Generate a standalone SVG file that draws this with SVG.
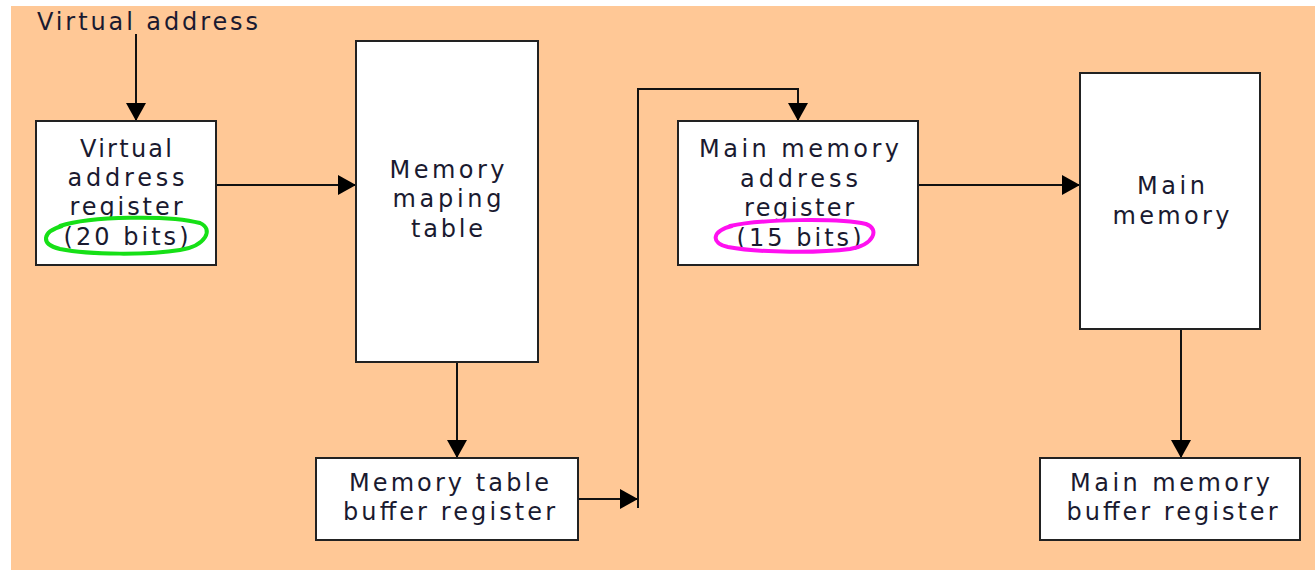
<svg xmlns="http://www.w3.org/2000/svg" width="1315" height="570" viewBox="0 0 1315 570">
<style>
.box{fill:#ffffff;stroke:#222222;stroke-width:2}
.lbl{font-family:"DejaVu Sans",sans-serif;font-size:24px;fill:#1a1a30;text-anchor:middle}
.ttl{font-family:"DejaVu Sans",sans-serif;font-size:24px;fill:#1a1a30}
.conn{fill:none;stroke:#111111;stroke-width:2}
</style>
<defs>
<marker id="ah" markerUnits="userSpaceOnUse" markerWidth="18" markerHeight="20" viewBox="0 0 18 20" refX="18" refY="10" orient="auto">
<path d="M0,0 L18,10 L0,20 Z" fill="#000000"/>
</marker>
</defs>
<rect x="0" y="0" width="1315" height="570" fill="#ffffff"/>
<rect x="11" y="6" width="1304" height="564" fill="#ffc896"/>
<g id="title">
<text class="ttl" x="37" y="30" textLength="221">Virtual address</text>
</g>
<g id="connectors">
<line class="conn" x1="136" y1="34" x2="136" y2="121" marker-end="url(#ah)"/>
<line class="conn" x1="216" y1="185" x2="356" y2="185" marker-end="url(#ah)"/>
<line class="conn" x1="457" y1="362" x2="457" y2="458" marker-end="url(#ah)"/>
<line class="conn" x1="578" y1="499" x2="638" y2="499" marker-end="url(#ah)"/>
<polyline class="conn" points="638,508 638,89 798,89 798,121" marker-end="url(#ah)"/>
<line class="conn" x1="918" y1="185" x2="1080" y2="185" marker-end="url(#ah)"/>
<line class="conn" x1="1181" y1="329" x2="1181" y2="458" marker-end="url(#ah)"/>
</g>
<g id="var">
<rect class="box" x="36" y="121" width="180" height="144"/>
<text class="lbl" x="126" y="157" textLength="92">Virtual</text>
<text class="lbl" x="126" y="186" textLength="117">address</text>
<text class="lbl" x="126" y="215" textLength="113">register</text>
<text class="lbl" x="126" y="245" textLength="125">(20 bits)</text>
<path d="M60,226 C90,216 170,215 200,223 C214,229 206,246 180,250 C150,255 90,255 60,249 C40,244 42,232 62,226" fill="none" stroke="#16e016" stroke-width="4" stroke-linecap="round"/>
</g>
<g id="mmt">
<rect class="box" x="356" y="41" width="182" height="321"/>
<text class="lbl" x="447" y="178" textLength="115">Memory</text>
<text class="lbl" x="447" y="207" textLength="109">maping</text>
<text class="lbl" x="447" y="237" textLength="72">table</text>
</g>
<g id="mtbr">
<rect class="box" x="316" y="458" width="262" height="82"/>
<text class="lbl" x="449" y="491" textLength="200">Memory table</text>
<text class="lbl" x="449" y="520" textLength="212">buffer register</text>
</g>
<g id="mmar">
<rect class="box" x="678" y="121" width="240" height="144"/>
<text class="lbl" x="799" y="157" textLength="200">Main memory</text>
<text class="lbl" x="799" y="187" textLength="118">address</text>
<text class="lbl" x="799" y="216" textLength="110">register</text>
<text class="lbl" x="799" y="246" textLength="125">(15 bits)</text>
<path d="M730,226 C760,219 840,218 866,224 C880,229 874,245 850,249 C820,253 760,253 728,247 C710,243 712,231 732,226" fill="none" stroke="#ff10f0" stroke-width="4" stroke-linecap="round"/>
</g>
<g id="mm">
<rect class="box" x="1080" y="73" width="180" height="256"/>
<text class="lbl" x="1171" y="194" textLength="68">Main</text>
<text class="lbl" x="1171" y="224" textLength="117">memory</text>
</g>
<g id="mmbr">
<rect class="box" x="1040" y="458" width="260" height="82"/>
<text class="lbl" x="1170" y="491" textLength="200">Main memory</text>
<text class="lbl" x="1172" y="520" textLength="211">buffer register</text>
</g>
</svg>
